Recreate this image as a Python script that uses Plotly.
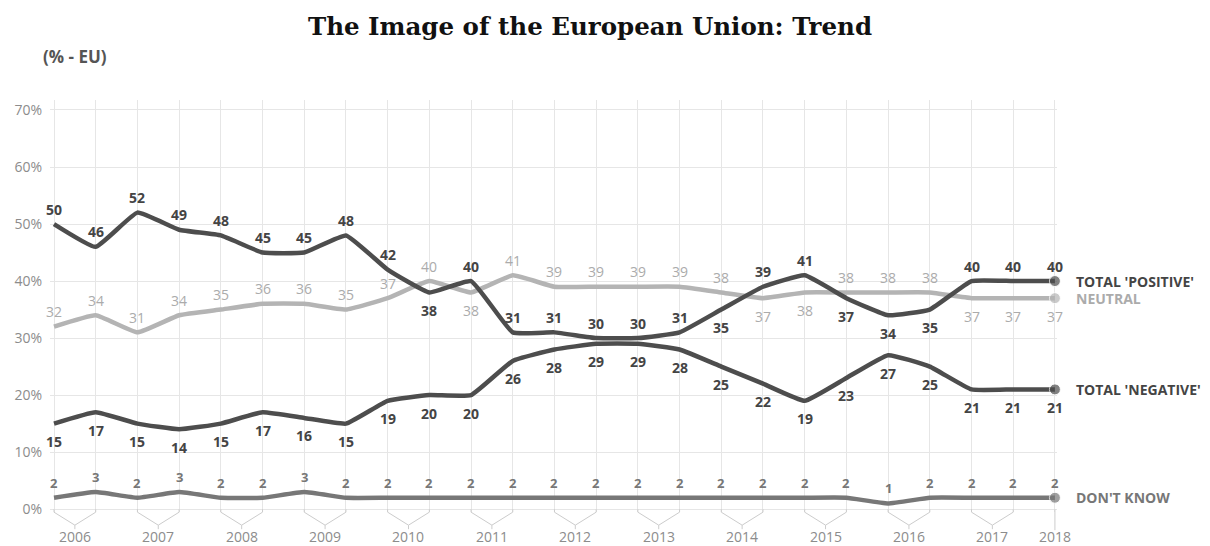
import plotly.graph_objects as go

# ---------------- data ----------------
years = ["2006", "2007", "2008", "2009", "2010", "2011", "2012",
         "2013", "2014", "2015", "2016", "2017", "2018"]
waves_per_year = [2, 2, 2, 2, 2, 2, 2, 2, 2, 2, 2, 2, 1]

positive = [50, 46, 52, 49, 48, 45, 45, 48, 42, 38, 40, 31, 31, 30, 30, 31, 35, 39, 41, 37, 34, 35, 40, 40, 40]
neutral = [32, 34, 31, 34, 35, 36, 36, 35, 37, 40, 38, 41, 39, 39, 39, 39, 38, 37, 38, 38, 38, 38, 37, 37, 37]
negative = [15, 17, 15, 14, 15, 17, 16, 15, 19, 20, 20, 26, 28, 29, 29, 28, 25, 22, 19, 23, 27, 25, 21, 21, 21]
dont_know = [2, 3, 2, 3, 2, 2, 3, 2, 2, 2, 2, 2, 2, 2, 2, 2, 2, 2, 2, 2, 1, 2, 2, 2, 2]

series_names = ["TOTAL 'POSITIVE'", "NEUTRAL", "TOTAL 'NEGATIVE'", "DON'T KNOW"]
y_ticks = [0, 10, 20, 30, 40, 50, 60, 70]

# label placement (a = above, b = below)
pos_place = ["a"] * 25
for i in (9, 16, 19, 20, 21):
    pos_place[i] = "b"
neu_place = ["a"] * 25
for i in (10, 17, 18, 22, 23, 24):
    neu_place[i] = "b"
neg_place = ["b"] * 25
dk_place = ["a"] * 25

# ---------------- styling ----------------
FONT = "Open Sans"
DARK = "#4d4d4d"
DARK_TXT = "#444444"
LIGHT = "#b4b4b4"
LIGHT_TXT = "#ababab"
MID = "#777777"
GRID = "#e6e6e6"
AXIS_TXT = "#8c8c8c"

n = len(positive)
xs = list(range(n))

# plot geometry (pixels)
W, H = 1210, 546
L_PX, R_MARGIN = 50, 153
T_PX = 100.0
Y_LO, Y_HI = -0.5, 71.75
PX_PER = 5.7
B_PX = T_PX + (Y_HI - Y_LO) * PX_PER


def paper_y(px):
    return (B_PX - px) / (B_PX - T_PX)


def paper_x(px):
    return (px - L_PX) / (W - L_PX - R_MARGIN)


fig = go.Figure()

series = [
    (neutral, series_names[1], LIGHT, LIGHT_TXT, neu_place, False, 14),
    (dont_know, series_names[3], MID, MID, dk_place, True, 13),
    (negative, series_names[2], DARK, DARK_TXT, neg_place, True, 14),
    (positive, series_names[0], DARK, DARK_TXT, pos_place, True, 14),
]

annotations = []
for vals, name, lc, tc, place, bold, fs in series:
    fig.add_trace(go.Scatter(
        x=xs, y=vals, mode="lines+markers",
        line=dict(color=lc, width=4.5, shape="spline", smoothing=0.35),
        marker=dict(size=[0] * (n - 1) + [11], color=lc),
        cliponaxis=False, hoverinfo="skip", showlegend=False, name=name,
    ))
    for i, v in enumerate(vals):
        annotations.append(dict(
            x=i, y=v, xref="x", yref="y", text=str(v), showarrow=False,
            yanchor="middle", xanchor="center",
            yshift=15 if place[i] == "a" else -18,
            font=dict(family=FONT, size=fs, color=tc,
                      weight="bold" if bold else "normal"),
        ))
    # end-of-line series label
    annotations.append(dict(
        x=n - 1, y=vals[-1], xref="x", yref="y", text=name,
        showarrow=False, xanchor="left", yanchor="middle", xshift=19,
        font=dict(family=FONT, size=14, color=tc, weight="bold"),
    ))

# x-axis bracket decorations and year labels
shapes = []
year_pos = []
idx = 0
for yr, w in zip(years, waves_per_year):
    if w == 2:
        a, b = idx, idx + 1
        mid = (a + b) / 2
        path = (f"M {a},{paper_y(509)} L {a},{paper_y(512)} L {mid},{paper_y(525)} "
                f"L {b},{paper_y(512)} L {b},{paper_y(509)} "
                f"M {mid},{paper_y(525)} L {mid},{paper_y(529)}")
    else:
        mid = idx
        path = f"M {mid},{paper_y(509)} L {mid},{paper_y(530)}"
    shapes.append(dict(type="path", xref="x", yref="paper", path=path,
                       line=dict(color="#cccccc", width=1)))
    year_pos.append(mid)
    idx += w

for yr, xp in zip(years, year_pos):
    annotations.append(dict(
        x=xp, y=paper_y(536), xref="x", yref="paper", text=yr, showarrow=False,
        xanchor="center", yanchor="middle",
        font=dict(family=FONT, size=14, color=AXIS_TXT),
    ))

# unit note
annotations.append(dict(
    x=paper_x(41), y=paper_y(57), xref="paper", yref="paper", text="<b>(% - EU)</b>",
    showarrow=False, xanchor="left", yanchor="middle",
    font=dict(family=FONT, size=17, color="#555555")))

fig.update_layout(
    width=W, height=H,
    margin=dict(l=L_PX, r=R_MARGIN, t=int(T_PX), b=H - B_PX),
    plot_bgcolor="white", paper_bgcolor="white",
    title=dict(text="<b>The Image of the European Union: Trend</b>",
               x=590 / W, xanchor="center", y=1 - 26 / H, yanchor="middle",
               font=dict(family="DejaVu Serif", size=24.5, color="#111111")),
    xaxis=dict(range=[-0.096, 24.05], tickmode="array", tickvals=xs,
               showticklabels=False, showgrid=True, gridcolor=GRID, gridwidth=1,
               zeroline=False, showline=False, ticks=""),
    yaxis=dict(range=[Y_LO, Y_HI], tickmode="array", tickvals=y_ticks,
               ticktext=[f"{t}%" for t in y_ticks],
               showgrid=True, gridcolor=GRID, gridwidth=1, zeroline=False,
               showline=False, ticks="", ticklabelstandoff=7,
               tickfont=dict(family=FONT, size=14, color=AXIS_TXT)),
    shapes=shapes,
    annotations=annotations,
)

fig.write_html("out.html")
